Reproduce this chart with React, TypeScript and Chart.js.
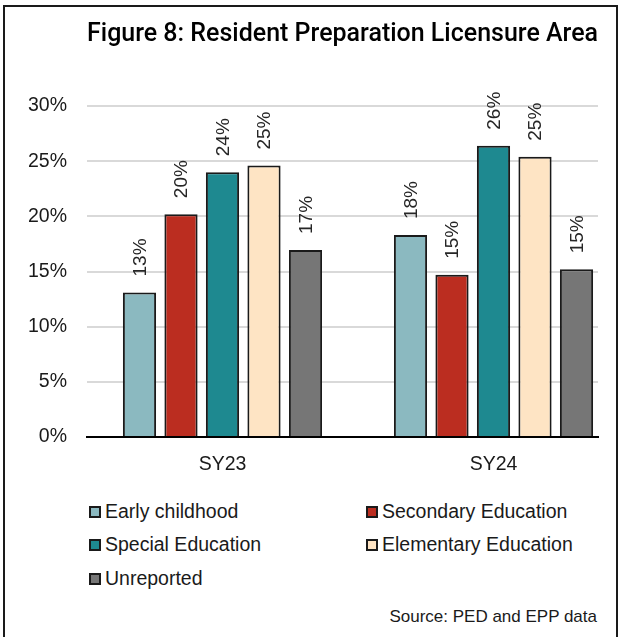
import React, { useEffect, useRef } from 'react';
import { Chart, registerables } from 'chart.js';

Chart.register(...registerables);

// School years on the category axis
const categories = ['SY23', 'SY24'];

// Licensure area shares (%) per school year
const earlyChildhood = [13.1, 18.3];
const secondaryEducation = [20.2, 14.7];
const specialEducation = [24.0, 26.4];
const elementaryEducation = [24.6, 25.4];
const unreported = [16.95, 15.2];

const seriesNames = [
  'Early childhood',
  'Secondary Education',
  'Special Education',
  'Elementary Education',
  'Unreported',
];
const seriesValues = [earlyChildhood, secondaryEducation, specialEducation, elementaryEducation, unreported];
const seriesColors = ['#8bb9c0', '#bb2d20', '#1e8990', '#fee4c4', '#767676'];

const yMin = 0;
const yMax = 30;
const yStep = 5;

const titleText = 'Figure 8: Resident Preparation Licensure Area';
const sourceText = 'Source: PED and EPP data';

const SANS = '"Liberation Sans", Arial, sans-serif';
const INK = '#1a1a1a';

// Rotated value labels above each bar
const valueLabels = {
  id: 'valueLabels',
  afterDatasetsDraw(chart: any) {
    const ctx = chart.ctx;
    ctx.save();
    ctx.font = `19px ${SANS}`;
    ctx.fillStyle = '#262626';
    ctx.textAlign = 'left';
    ctx.textBaseline = 'middle';
    chart.data.datasets.forEach((ds: any, di: number) => {
      const meta = chart.getDatasetMeta(di);
      meta.data.forEach((bar: any, i: number) => {
        const v = ds.data[i].y;
        ctx.save();
        ctx.translate(bar.x + 1, bar.y - 16);
        ctx.rotate(-Math.PI / 2);
        ctx.fillText(`${Math.round(v)}%`, 0, 0);
        ctx.restore();
      });
    });
    ctx.restore();
  },
};

export default function App() {
  const canvasRef = useRef<HTMLCanvasElement>(null);

  useEffect(() => {
    const chart = new Chart(canvasRef.current as HTMLCanvasElement, {
      type: 'bar',
      data: {
        datasets: seriesNames.map((name, s) => ({
          label: name,
          data: seriesValues[s].map((v, i) => ({ x: i, y: v })),
          backgroundColor: seriesColors[s],
          borderColor: INK,
          borderWidth: 2,
          categoryPercentage: 0.7657,
          barPercentage: 0.8,
        })),
      },
      options: {
        animation: false,
        responsive: false,
        devicePixelRatio: 1,
        layout: { padding: { top: 0, right: 21, bottom: 0, left: 0 } },
        plugins: {
          legend: { display: false },
          tooltip: { enabled: false },
          title: {
            display: true,
            text: titleText,
            align: 'end',
            fullSize: false,
            color: '#000',
            font: { family: 'Roboto, "Liberation Sans", sans-serif', size: 26, weight: '500' },
            padding: { top: 18.5, bottom: 56.3 },
          },
        },
        scales: {
          x: {
            type: 'linear',
            min: -0.5,
            max: 1.3856,
            offset: false,
            bounds: 'data',
            grid: { display: false, drawTicks: false, offset: false },
            border: { display: true, color: '#000', width: 2 },
            afterBuildTicks: (axis: any) => {
              axis.ticks = categories.map((_, i) => ({ value: i }));
            },
            afterFit: (axis: any) => {
              axis.height = 40;
            },
            ticks: {
              autoSkip: false,
              maxRotation: 0,
              padding: 16,
              color: INK,
              font: { family: SANS, size: 19.5 },
              callback: (v: any) => categories[Math.round(Number(v))] ?? '',
            },
          },
          y: {
            min: yMin,
            max: yMax,
            grid: { color: '#d9d9d9', lineWidth: 2, drawTicks: false },
            border: { display: false },
            afterFit: (axis: any) => {
              axis.width = 87;
            },
            ticks: {
              stepSize: yStep,
              padding: 20,
              color: INK,
              font: { family: SANS, size: 19.5 },
              callback: (v: any) => `${v}%`,
            },
          },
        },
      },
      plugins: [valueLabels],
    } as any);
    return () => chart.destroy();
  }, []);

  const legendRows: number[][] = [];
  for (let i = 0; i < seriesNames.length; i += 2) {
    legendRows.push([i, i + 1].filter((k) => k < seriesNames.length));
  }

  return (
    <div
      style={{
        position: 'absolute',
        left: 0,
        top: 0,
        width: 619,
        height: 637,
        overflow: 'hidden',
        background: '#fff',
      }}
    >
      <div
        style={{
          position: 'absolute',
          left: 3,
          top: 5,
          width: 615,
          height: 700,
          border: `2px solid ${INK}`,
          boxSizing: 'border-box',
        }}
      />
      <canvas
        ref={canvasRef}
        width={619}
        height={477}
        style={{ position: 'absolute', left: 0, top: 0, width: 619, height: 477 }}
      />
      <div style={{ position: 'absolute', left: 89, top: 494.5 }}>
        {legendRows.map((row, r) => (
          <div key={r} style={{ display: 'flex', height: 33.5 }}>
            {row.map((k) => (
              <div
                key={k}
                style={{
                  width: 277,
                  fontFamily: SANS,
                  fontSize: 19.5,
                  lineHeight: '33.5px',
                  color: INK,
                  whiteSpace: 'nowrap',
                }}
              >
                <span
                  style={{
                    display: 'inline-block',
                    width: 12,
                    height: 12,
                    boxSizing: 'border-box',
                    border: `2px solid ${INK}`,
                    background: seriesColors[k],
                    marginRight: 4,
                    verticalAlign: 'baseline',
                  }}
                />
                {seriesNames[k]}
              </div>
            ))}
          </div>
        ))}
      </div>
      <div
        style={{
          position: 'absolute',
          right: 22,
          top: 607,
          fontFamily: SANS,
          fontSize: 17,
          lineHeight: '20px',
          color: INK,
          whiteSpace: 'nowrap',
        }}
      >
        {sourceText}
      </div>
    </div>
  );
}
